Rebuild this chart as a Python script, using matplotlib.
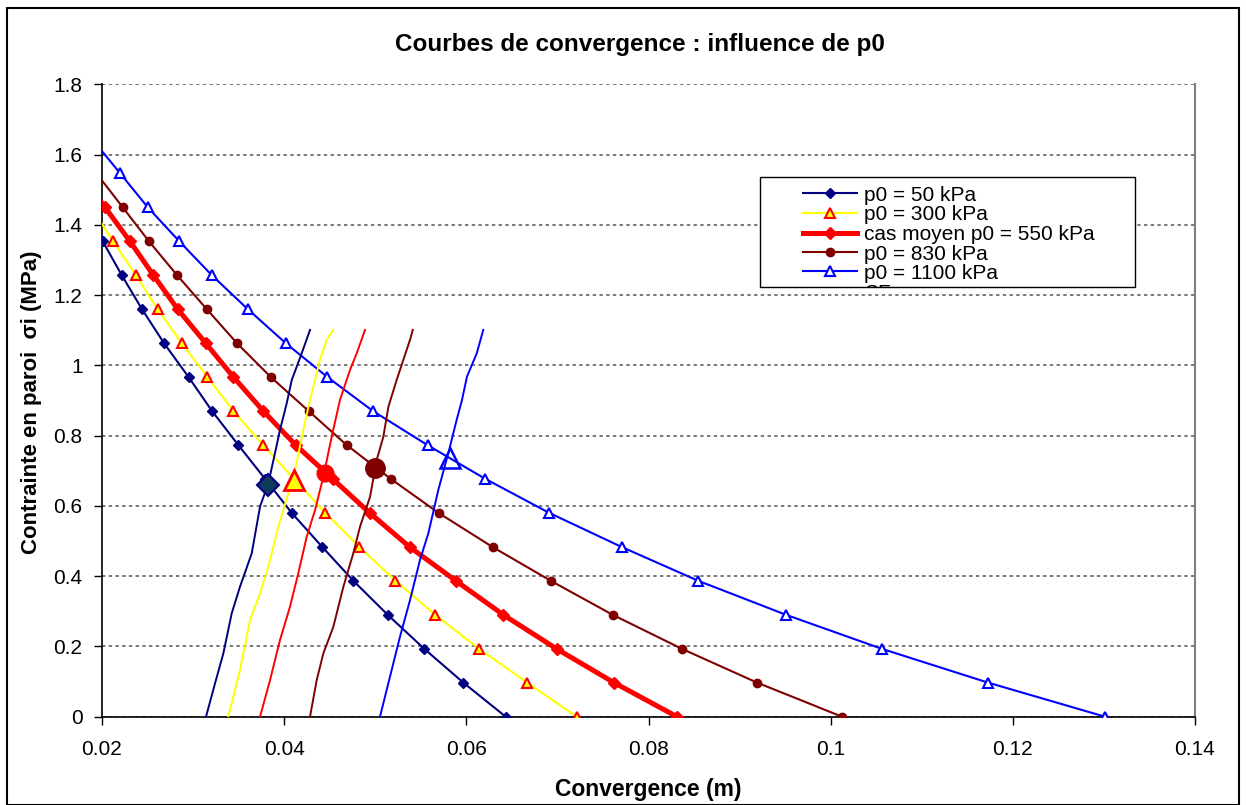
import matplotlib
matplotlib.use("Agg")
import matplotlib.pyplot as plt
from matplotlib.patches import Rectangle
from matplotlib.lines import Line2D
from matplotlib.transforms import Bbox
from matplotlib.ticker import FixedLocator, FuncFormatter

plt.rcParams['font.family'] = ['Liberation Sans', 'DejaVu Sans']

W, H = 1246, 805

# ---------------- data ----------------
# convergence curves (descending), x = convergence (m), y = sigma_i (MPa)
p50_x = [0.0180, 0.02008, 0.02216, 0.02439, 0.02681, 0.02950, 0.03208, 0.03497,
         0.0379, 0.04083, 0.04419, 0.04759, 0.05137, 0.05539, 0.05967, 0.06432]
p50_y = [1.450, 1.353, 1.257, 1.160, 1.063, 0.967, 0.870, 0.773,
         0.677, 0.580, 0.483, 0.387, 0.290, 0.193, 0.097, 0.0]

p300_x = [0.01878, 0.02124, 0.02370, 0.02612, 0.02875, 0.03158, 0.03442, 0.03771,
          0.04108, 0.04452, 0.04827, 0.05222, 0.05659, 0.06141, 0.06669, 0.07212]
p300_y = [1.450, 1.353, 1.257, 1.160, 1.063, 0.967, 0.870, 0.773,
          0.677, 0.580, 0.483, 0.387, 0.290, 0.193, 0.097, 0.0]

p550_x = [0.01759, 0.02033, 0.02307, 0.02563, 0.02831, 0.03139, 0.03442, 0.03771,
          0.04127, 0.04531, 0.04939, 0.05378, 0.05884, 0.06406, 0.06992, 0.07621, 0.08313]
p550_y = [1.547, 1.450, 1.353, 1.257, 1.160, 1.063, 0.967, 0.870, 0.773,
          0.677, 0.580, 0.483, 0.387, 0.290, 0.193, 0.097, 0.0]

p830_x = [0.01938, 0.02227, 0.02516, 0.02823, 0.03150, 0.03482, 0.03852, 0.04269,
          0.04687, 0.05170, 0.05695, 0.06288, 0.06926, 0.07607, 0.08368, 0.09192, 0.10125]
p830_y = [1.547, 1.450, 1.353, 1.257, 1.160, 1.063, 0.967, 0.870, 0.773,
          0.677, 0.580, 0.483, 0.387, 0.290, 0.193, 0.097, 0.0]

p1100_x = [0.01895, 0.02198, 0.02502, 0.02849, 0.03204, 0.03600, 0.04018, 0.04473, 0.04975,
           0.05574, 0.06208, 0.06911, 0.07706, 0.08544, 0.09510, 0.10564, 0.11728, 0.13012]
p1100_y = [1.643, 1.547, 1.450, 1.353, 1.257, 1.160, 1.063, 0.967, 0.870, 0.773,
           0.677, 0.580, 0.483, 0.387, 0.290, 0.193, 0.097, 0.0]

# confinement (support) curves - steep lines
c50_x = [0.03142, 0.03241, 0.03332, 0.03424, 0.03515, 0.03644, 0.03735, 0.03826,
         0.03899, 0.03954, 0.04028, 0.04083, 0.04192, 0.04284]
c50_y = [0.0, 0.095, 0.180, 0.294, 0.370, 0.465, 0.598, 0.664,
         0.750, 0.816, 0.892, 0.958, 1.034, 1.101]

c300_x = [0.03387, 0.03515, 0.03625, 0.03735, 0.03826, 0.03936, 0.04046, 0.04119,
          0.04210, 0.04284, 0.04339, 0.04393, 0.04467, 0.04540]
c300_y = [0.0, 0.133, 0.275, 0.351, 0.427, 0.541, 0.636, 0.702,
          0.816, 0.902, 0.959, 1.016, 1.073, 1.101]

c550_x = [0.03735, 0.03845, 0.03954, 0.04064, 0.04155, 0.04247, 0.04339, 0.04430,
          0.04522, 0.04613, 0.04723, 0.04796, 0.04888]
c550_y = [0.0, 0.104, 0.218, 0.313, 0.408, 0.512, 0.588, 0.683,
          0.797, 0.902, 0.987, 1.034, 1.101]

c830_x = [0.04284, 0.04357, 0.04430, 0.04540, 0.04650, 0.04759, 0.04833, 0.04943,
          0.05016, 0.05089, 0.05144, 0.05236, 0.05309, 0.05382, 0.05412]
c830_y = [0.0, 0.104, 0.180, 0.256, 0.370, 0.465, 0.541, 0.626,
          0.731, 0.797, 0.882, 0.959, 1.016, 1.073, 1.101]

c1100_x = [0.05052, 0.05162, 0.05272, 0.05382, 0.05491, 0.05583, 0.05692, 0.05802,
           0.05894, 0.05953, 0.06007, 0.06114, 0.06186]
c1100_y = [0.0, 0.114, 0.228, 0.332, 0.446, 0.522, 0.645, 0.750,
           0.845, 0.902, 0.968, 1.034, 1.101]

# equilibrium points (intersections)
eq_x = [0.03819, 0.04108, 0.04448, 0.04997, 0.05821]
eq_y = [0.660, 0.674, 0.693, 0.709, 0.736]

labels = ["p0 = 50 kPa", "p0 = 300 kPa", "cas moyen p0 = 550 kPa",
          "p0 = 830 kPa", "p0 = 1100 kPa"]
x_ticks = [0.02, 0.04, 0.06, 0.08, 0.10, 0.12, 0.14]
y_ticks = [0, 0.2, 0.4, 0.6, 0.8, 1.0, 1.2, 1.4, 1.6, 1.8]

# ---------------- styles ----------------
NAVY, YEL, RED, BRN, BLU = "#000080", "#FFFF00", "#FF0000", "#800000", "#0000FF"
styles = [
    dict(color=NAVY, lw=1.5, marker="D", ms=5.5, mfc=NAVY, mec=NAVY, mew=1),
    dict(color=YEL, lw=1.5, marker="^", ms=6.5, mfc=YEL, mec=RED, mew=1.5),
    dict(color=RED, lw=3.6, marker="D", ms=6, mfc=RED, mec=RED, mew=1),
    dict(color=BRN, lw=1.5, marker="o", ms=6, mfc=BRN, mec=BRN, mew=1),
    dict(color=BLU, lw=1.5, marker="^", ms=7, mfc="white", mec=BLU, mew=1.5),
]
eq_styles = [
    dict(marker="D", ms=11, mfc="#103a5c", mec=NAVY, mew=1.5),
    dict(marker="^", ms=15, mfc=YEL, mec=RED, mew=2),
    dict(marker="o", ms=12, mfc=RED, mec=RED, mew=1),
    dict(marker="o", ms=14, mfc=BRN, mec=BRN, mew=1),
    dict(marker="^", ms=15, mfc="none", mec=BLU, mew=1.8),
]
conf_colors = [NAVY, YEL, RED, BRN, BLU]

fig = plt.figure(figsize=(W / 100, H / 100), dpi=100)
fig.patch.set_facecolor("white")

L, R, T, B = 102, 1195, 84.3, 716.7
ax = fig.add_axes([L / W, 1 - B / H, (R - L) / W, (B - T) / H])

conv_x = [p50_x, p300_x, p550_x, p830_x, p1100_x]
conv_y = [p50_y, p300_y, p550_y, p830_y, p1100_y]
conf_x = [c50_x, c300_x, c550_x, c830_x, c1100_x]
conf_y = [c50_y, c300_y, c550_y, c830_y, c1100_y]

for xs, ys, st in zip(conv_x, conv_y, styles):
    ax.plot(xs, ys, zorder=3, **st)
for xs, ys, c in zip(conf_x, conf_y, conf_colors):
    ax.plot(xs, ys, color=c, lw=1.4, zorder=4)
for x, y, st in zip(eq_x, eq_y, eq_styles):
    ax.plot([x], [y], ls="none", zorder=5, **st)

ax.set_xlim(0.02, 0.14)
ax.set_ylim(0, 1.8)
ax.xaxis.set_major_locator(FixedLocator(x_ticks))
ax.yaxis.set_major_locator(FixedLocator(y_ticks))
fmt = FuncFormatter(lambda v, p: ("%g" % round(v, 4)))
ax.xaxis.set_major_formatter(fmt)
ax.yaxis.set_major_formatter(fmt)
ax.tick_params(axis="both", direction="out", length=6, width=1, labelsize=15)
ax.tick_params(axis="y", pad=8)
ax.tick_params(axis="x", pad=11)

ax.yaxis.grid(True, linestyle=(0, (2.2, 2.2)), color="#555555", lw=1.1)
ax.set_axisbelow(True)
ax.spines["top"].set_visible(False)
ax.spines["right"].set_color("#808080")
ax.spines["right"].set_linewidth(1.5)
ax.spines["left"].set_linewidth(1.2)
ax.spines["bottom"].set_linewidth(1.2)

fig.text(640 / W, 1 - 44 / H, "Courbes de convergence : influence de p0",
         ha="center", va="center", fontsize=17.5, fontweight="bold")
fig.text(648 / W, 1 - 789 / H, "Convergence (m)", ha="center", va="center",
         fontsize=16.5, fontweight="bold")
fig.text(32 / W, 1 - 402 / H, "Contrainte en paroi  σi (MPa)", ha="center",
         va="center", rotation=90, fontsize=16, fontweight="bold")

# ---------------- legend (manual) ----------------
lx0, lx1, ly0, ly1 = 760, 1135, 177, 287
fig.add_artist(Rectangle((lx0 / W, 1 - ly1 / H), (lx1 - lx0) / W, (ly1 - ly0) / H,
                         transform=fig.transFigure, facecolor="white",
                         edgecolor="black", lw=1, zorder=10))
row_y = [193.3, 213.0, 232.5, 252.0, 271.5]
for yy, st, lab in zip(row_y, styles, labels):
    fy = 1 - yy / H
    fig.add_artist(Line2D([803 / W, 857 / W], [fy, fy], transform=fig.transFigure,
                          color=st["color"], lw=st["lw"], zorder=11))
    fig.add_artist(Line2D([830 / W], [fy], transform=fig.transFigure, ls="none",
                          marker=st["marker"], ms=st["ms"], mfc=st["mfc"],
                          mec=st["mec"], mew=st["mew"], zorder=12))
    fig.text(864 / W, fy, lab, ha="left", va="center_baseline", fontsize=15, zorder=12)
t = fig.text(864 / W, 1 - 291 / H, "SF", ha="left", va="center_baseline",
             fontsize=15, zorder=12)
t.set_clip_box(Bbox([[lx0, H - ly1], [lx1, H - ly0]]))
t.set_clip_on(True)

# outer chart border
fig.add_artist(Rectangle((7 / W, 0.0), (1239 - 7) / W, 1 - 8 / H,
                         transform=fig.transFigure, facecolor="none",
                         edgecolor="black", lw=1.5, zorder=20))

fig.savefig("out.png", dpi=100)
